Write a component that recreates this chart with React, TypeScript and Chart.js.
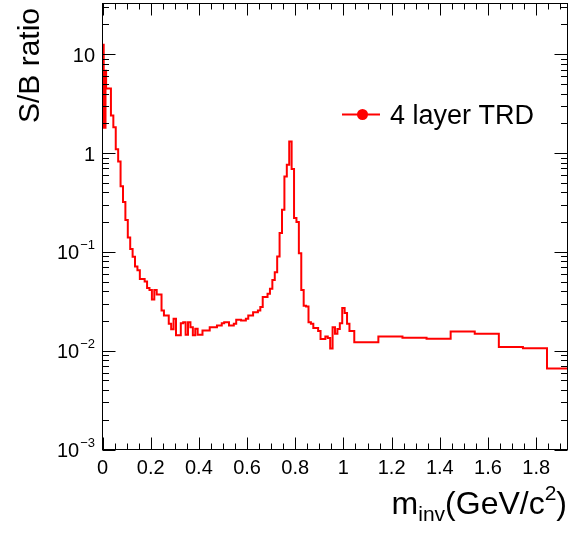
import React, { useEffect, useRef } from 'react';
import { Chart, registerables } from 'chart.js';
Chart.register(...registerables);

// ---- data ----
const lowStart = 0;
const lowWidth = 0.0025;
const lowValues = [12.5, 12.5, 1.8, 6.8, 1.8, 6.8];

const fineStart = 0.015;
const fineWidth = 0.01;
const fineValues = [
  4.5, 4.5, 2.4, 1.82, 1.09, 0.82, 0.46, 0.32, 0.21, 0.14,
  0.107, 0.089, 0.071, 0.065, 0.053, 0.053, 0.05, 0.043, 0.041, 0.033,
  0.041, 0.037, 0.037, 0.0255, 0.0227, 0.0227, 0.0187, 0.0165, 0.021, 0.0143,
  0.0143, 0.019, 0.0194, 0.0145, 0.0194, 0.0173, 0.0143, 0.0167, 0.0145, 0.0145,
  0.016, 0.016, 0.016, 0.0173, 0.0173, 0.0173, 0.018, 0.018, 0.019, 0.0194,
  0.0194, 0.018, 0.018, 0.0187, 0.0206, 0.0206, 0.0202, 0.0202, 0.021, 0.0227,
  0.0227, 0.0245, 0.0245, 0.0255, 0.0276, 0.0349, 0.0349, 0.0376, 0.0424, 0.0519,
  0.062, 0.09, 0.155, 0.267, 0.58, 0.76, 1.31, 0.69, 0.22, 0.2,
  0.097, 0.041, 0.0285, 0.028, 0.0194, 0.0187, 0.017, 0.017, 0.0158, 0.0131,
  0.0131, 0.0139, 0.0134, 0.0105, 0.0173, 0.0148, 0.0166, 0.019, 0.027, 0.024,
  0.0187, 0.0158, 0.0158,
];

const coarseStart = 1.045;
const coarseWidth = 0.1;
const coarseValues = [0.0122, 0.0139, 0.0135, 0.0132, 0.0156, 0.0148, 0.0109, 0.0106, 0.0066];

const xTickValues = [0, 0.2, 0.4, 0.6, 0.8, 1, 1.2, 1.4, 1.6, 1.8];
const xTickLabels = ['0', '0.2', '0.4', '0.6', '0.8', '1', '1.2', '1.4', '1.6', '1.8'];
const yDecadeExponents = [-3, -2, -1, 0, 1];

const seriesLabel = '4 layer TRD';
const xTitleMain = 'm';
const xTitleSub = 'inv';
const xTitleRest = '(GeV/c';
const xTitleSup = '2';
const yTitle = 'S/B ratio';

const X_MIN = 0;
const X_MAX = 1.93;
const Y_MIN = 1e-3;
const Y_MAX = 32.6;

const FONT = '"Liberation Sans", Arial, Helvetica, sans-serif';
const RED = '#ff0000';

function buildPoints() {
  const pts: { x: number; y: number }[] = [];
  const push = (start: number, width: number, vals: number[]) =>
    vals.forEach((v, i) => pts.push({ x: start + i * width, y: v }));
  push(lowStart, lowWidth, lowValues);
  push(fineStart, fineWidth, fineValues);
  push(coarseStart, coarseWidth, coarseValues);
  pts.push({
    x: coarseStart + coarseValues.length * coarseWidth,
    y: coarseValues[coarseValues.length - 1],
  });
  return pts;
}

const rootAxesPlugin = {
  id: 'rootAxes',
  afterDraw(chart: any) {
    const { ctx, chartArea } = chart;
    const xs = chart.scales.x;
    const ys = chart.scales.y;
    const L = chartArea.left, R = chartArea.right, T = chartArea.top, B = chartArea.bottom;
    ctx.save();
    ctx.strokeStyle = '#000';
    ctx.lineWidth = 1;
    // frame
    ctx.strokeRect(L, T, R - L, B - T);

    // x ticks
    ctx.beginPath();
    for (let i = 0; i <= Math.round(X_MAX / 0.05); i++) {
      const v = i * 0.05;
      if (v > X_MAX + 1e-9) break;
      const px = Math.round(xs.getPixelForValue(v)) + 0.5;
      const major = i % 4 === 0;
      const len = major ? 12 : 6;
      ctx.moveTo(px, B);
      ctx.lineTo(px, B - len);
      ctx.moveTo(px, T);
      ctx.lineTo(px, T + len);
    }
    // y ticks
    for (const e of yDecadeExponents) {
      for (let m = 1; m <= 9; m++) {
        const v = m * Math.pow(10, e);
        if (v < Y_MIN - 1e-12 || v > Y_MAX) continue;
        const py = Math.round(ys.getPixelForValue(v)) + 0.5;
        const len = m === 1 ? 13 : 6.5;
        ctx.moveTo(L, py);
        ctx.lineTo(L + len, py);
        ctx.moveTo(R, py);
        ctx.lineTo(R - len, py);
      }
    }
    ctx.stroke();

    // x labels
    ctx.fillStyle = '#000';
    ctx.font = `20px ${FONT}`;
    ctx.textAlign = 'center';
    ctx.textBaseline = 'alphabetic';
    xTickValues.forEach((v, i) => {
      ctx.fillText(xTickLabels[i], xs.getPixelForValue(v), B + 24);
    });

    // y labels
    const labelRight = 95;
    yDecadeExponents.forEach((e) => {
      const py = ys.getPixelForValue(Math.pow(10, e));
      const base = py + 7.5;
      if (e === 0 || e === 1) {
        ctx.font = `20px ${FONT}`;
        ctx.textAlign = 'right';
        ctx.fillText(e === 0 ? '1' : '10', labelRight, base);
      } else {
        ctx.font = `13px ${FONT}`;
        ctx.textAlign = 'right';
        const sup = '\u2212' + String(-e);
        ctx.fillText(sup, labelRight, base - 10);
        const w = ctx.measureText(sup).width;
        ctx.font = `20px ${FONT}`;
        ctx.fillText('10', labelRight - w - 1, base);
      }
    });

    // x title (right aligned)
    {
      const right = 567;
      const base = 514;
      ctx.textAlign = 'left';
      const fMain = `32px ${FONT}`;
      const fSmall = `21px ${FONT}`;
      ctx.font = fMain;
      const wM = ctx.measureText(xTitleMain).width;
      const wR = ctx.measureText(xTitleRest).width;
      const wP = ctx.measureText(')').width;
      ctx.font = fSmall;
      const wS = ctx.measureText(xTitleSub).width;
      const wU = ctx.measureText(xTitleSup).width;
      let x = right - (wM + wS + wR + wU + wP);
      ctx.font = fMain;
      ctx.fillText(xTitleMain, x, base);
      x += wM;
      ctx.font = fSmall;
      ctx.fillText(xTitleSub, x, base + 7);
      x += wS;
      ctx.font = fMain;
      ctx.fillText(xTitleRest, x, base);
      x += wR;
      ctx.font = fSmall;
      ctx.fillText(xTitleSup, x, base - 14);
      x += wU;
      ctx.font = fMain;
      ctx.fillText(')', x, base);
    }

    // y title
    ctx.save();
    ctx.translate(39, 8);
    ctx.rotate(-Math.PI / 2);
    ctx.font = `30px ${FONT}`;
    ctx.textAlign = 'right';
    ctx.textBaseline = 'alphabetic';
    ctx.fillText(yTitle, 0, 0);
    ctx.restore();

    // legend
    const ly = 114.5;
    ctx.strokeStyle = RED;
    ctx.lineWidth = 2;
    ctx.beginPath();
    ctx.moveTo(342, ly);
    ctx.lineTo(380, ly);
    ctx.stroke();
    ctx.fillStyle = RED;
    ctx.beginPath();
    ctx.arc(362.5, ly, 5.5, 0, Math.PI * 2);
    ctx.fill();
    ctx.fillStyle = '#000';
    ctx.font = `27px ${FONT}`;
    ctx.textAlign = 'left';
    ctx.fillText(chart.data.datasets[0].label, 390, 123.5);

    ctx.restore();
  },
};

export default function App() {
  const ref = useRef<HTMLCanvasElement>(null);
  useEffect(() => {
    document.body.style.margin = '0';
    const canvas = ref.current!;
    const chart = new Chart(canvas, {
      type: 'line',
      data: {
        datasets: [
          {
            label: seriesLabel,
            data: buildPoints(),
            borderColor: RED,
            backgroundColor: RED,
            borderWidth: 2,
            pointRadius: 0,
            stepped: true,
            fill: false,
            tension: 0,
          },
        ],
      },
      options: {
        animation: false,
        responsive: false,
        maintainAspectRatio: false,
        devicePixelRatio: 1,
        layout: { padding: { left: 102.5, right: 1.5, top: 3.5, bottom: 84.5 } },
        plugins: { legend: { display: false }, tooltip: { enabled: false } },
        scales: {
          x: { type: 'linear', min: X_MIN, max: X_MAX, display: false },
          y: { type: 'logarithmic', min: Y_MIN, max: Y_MAX, display: false },
        },
      },
      plugins: [rootAxesPlugin],
    });
    return () => chart.destroy();
  }, []);
  return (
    <div style={{ width: 569, height: 534, background: '#fff' }}>
      <canvas ref={ref} width={569} height={534} style={{ display: 'block' }} />
    </div>
  );
}
